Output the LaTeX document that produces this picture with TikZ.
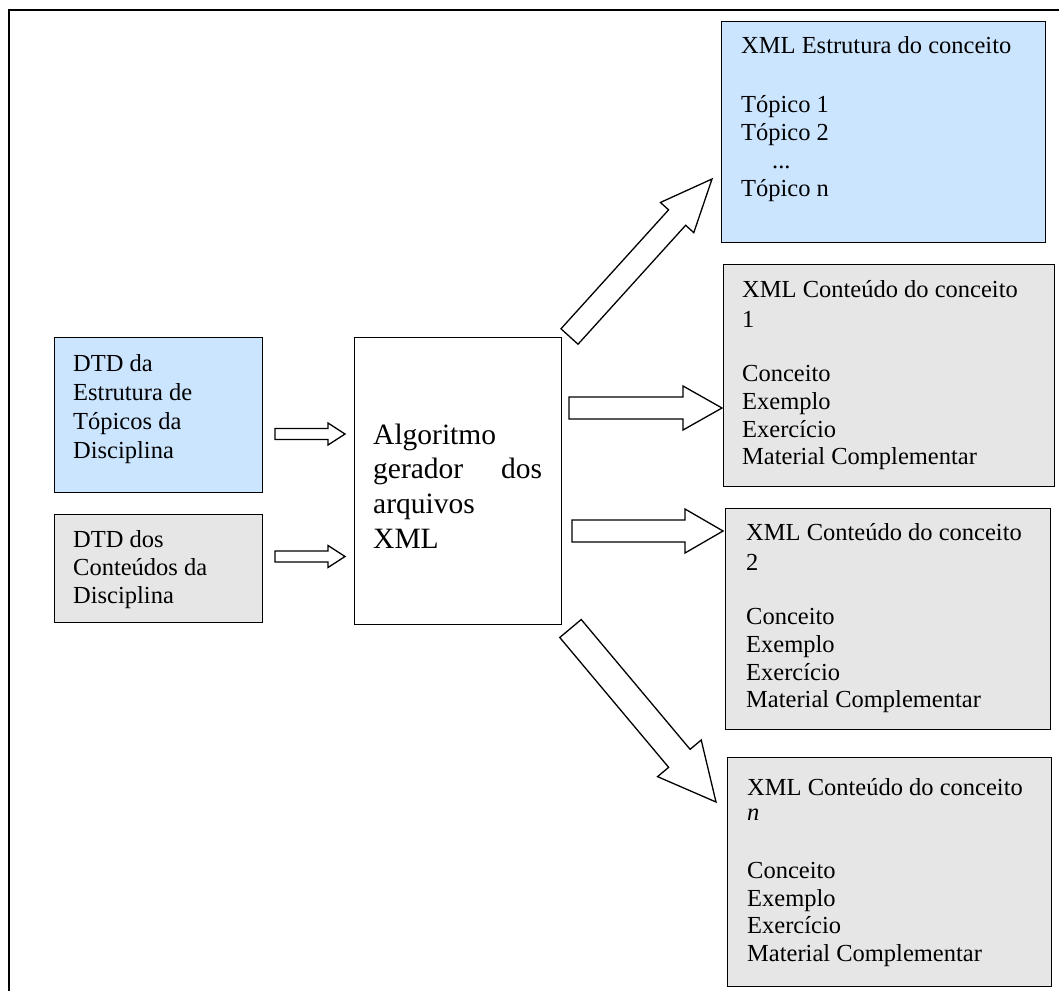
\documentclass[tikz,border=0pt]{standalone}
\usepackage{fontspec}
\setmainfont{Liberation Serif}
\usetikzlibrary{calc}

\definecolor{boxblue}{RGB}{204,229,255}
\definecolor{boxgray}{RGB}{230,230,230}

% hollow block arrow: tail, tip, shaft width, head width, head length
\newcommand{\blockarrow}[5]{%
  \coordinate (neck) at ($(#2)!#5!(#1)$);
  \draw[hollow] ($(#1)!#3*0.5!90:(#2)$) -- ($(neck)!#3*0.5!90:(#2)$)
    -- ($(neck)!#4*0.5!90:(#2)$) -- (#2) -- ($(neck)!#4*0.5!-90:(#2)$)
    -- ($(neck)!#3*0.5!-90:(#2)$) -- ($(#1)!#3*0.5!-90:(#2)$) -- cycle;}

\newcommand{\bodyfont}{\fontsize{24.5}{27.7}\selectfont}

\begin{document}
\begin{tikzpicture}[x=1pt,y=-1pt,
  box/.style={draw=black, line width=1.3pt, rectangle, inner sep=0pt, anchor=north west},
  bluebox/.style={box, fill=boxblue},
  graybox/.style={box, fill=boxgray},
  whitebox/.style={box, fill=white},
  txt/.style={anchor=base west, inner sep=0pt},
  hollow/.style={draw=black, line width=1.3pt, fill=white, line join=miter}]

\useasboundingbox (0,0) rectangle (1059,990);
\clip (0,0) rectangle (1059,990);

% page frame
\draw[line width=2pt] (8.5,1000) -- (8.5,10.5) -- (1070,10.5);

% input definitions
\node[bluebox, minimum width=208pt, minimum height=155pt] (dtdE) at (54,337) {};
\node[txt] (dtdE-t) at ([shift={(19,34)}]dtdE.north west)
  {\parbox[t]{185pt}{\fontsize{24.5}{29}\selectfont DTD da\\ Estrutura de\\ Tópicos da\\ Disciplina}};

\node[graybox, minimum width=208pt, minimum height=108pt] (dtdC) at (54,514) {};
\node[txt] (dtdC-t) at ([shift={(19,33)}]dtdC.north west)
  {\parbox[t]{185pt}{\fontsize{24.5}{28}\selectfont DTD dos\\ Conteúdos da\\ Disciplina}};

% generator
\node[whitebox, minimum width=207pt, minimum height=287pt] (alg) at (354,337) {};
\node[txt] (alg-t) at ([shift={(19,107)}]alg.north west)
  {\parbox[t]{169pt}{\fontsize{29.5}{34.7}\selectfont Algoritmo\\ gerador\hfill dos\\ arquivos\\ XML}};

% generated files
\node[bluebox, minimum width=324pt, minimum height=221pt] (estr) at (721,21) {};
\node[txt] (estr-t) at ([shift={(20,32)}]estr.north west)
  {\parbox[t]{300pt}{\fontsize{24.5}{28}\selectfont XML Estrutura do conceito\\[31pt]
   Tópico 1\\ Tópico 2\\ \hspace*{31pt}...\\ Tópico n}};

\node[graybox, minimum width=331pt, minimum height=222pt] (c1) at (723,264) {};
\node[txt] (c1-t) at ([shift={(19,33)}]c1.north west)
  {\parbox[t]{310pt}{\bodyfont XML Conteúdo do conceito\\[2.3pt] 1\\[27pt]
   Conceito\\ Exemplo\\ Exercício\\ Material Complementar}};

\node[graybox, minimum width=325pt, minimum height=221pt] (c2) at (725,508) {};
\node[txt] (c2-t) at ([shift={(21,32)}]c2.north west)
  {\parbox[t]{300pt}{\bodyfont XML Conteúdo do conceito\\[2.3pt] 2\\[27pt]
   Conceito\\ Exemplo\\ Exercício\\ Material Complementar}};

\node[graybox, minimum width=324pt, minimum height=229pt] (cn) at (727,757) {};
\node[txt] (cn-t) at ([shift={(20,38)}]cn.north west)
  {\parbox[t]{300pt}{\bodyfont XML Conteúdo do conceito\\[-2pt] \textit{n}\\[30pt]
   Conceito\\ Exemplo\\ Exercício\\ Material Complementar}};

% arrow ends
\coordinate (inE-s) at (275,434);   \coordinate (inE-e) at (345,434);
\coordinate (inC-s) at (275,556.5); \coordinate (inC-e) at (345,556.5);
\coordinate (oE-s) at (569.5,336.5); \coordinate (oE-e) at (712,179);
\coordinate (o1-s) at (569,408);   \coordinate (o1-e) at (722,408);
\coordinate (o2-s) at (572,531);   \coordinate (o2-e) at (723,531);
\coordinate (on-s) at (570.5,628.5); \coordinate (on-e) at (716,802);

\blockarrow{inE-s}{inE-e}{11pt}{22pt}{17pt}
\blockarrow{inC-s}{inC-e}{11pt}{22pt}{17pt}
\blockarrow{oE-s}{oE-e}{23pt}{45pt}{52pt}
\blockarrow{o1-s}{o1-e}{22pt}{44pt}{39pt}
\blockarrow{o2-s}{o2-e}{22pt}{44pt}{38pt}
\blockarrow{on-s}{on-e}{28pt}{57pt}{57pt}

\end{tikzpicture}
\end{document}
